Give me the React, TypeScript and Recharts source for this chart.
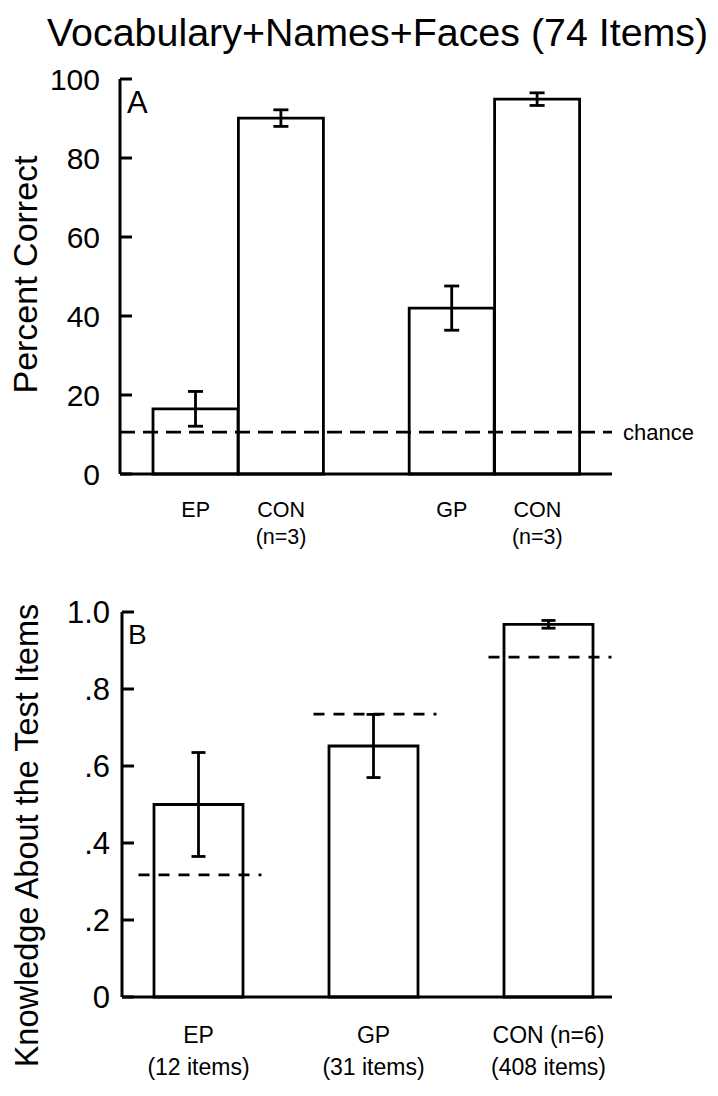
import React from 'react';
import { BarChart, ComposedChart, Bar, Line, XAxis, YAxis, ErrorBar, ReferenceLine, Label } from 'recharts';

const FONT = '"Liberation Sans", Arial, Helvetica, sans-serif';

// Panel A: percent correct
const groupsA = ['EP', 'CON', '', 'GP', 'CON'];
const subLabelsA = ['', '(n=3)', '', '', '(n=3)'];
const percentCorrect = [16.5, 90.1, null, 42, 94.9];
const percentErr = [4.4, 2.1, null, 5.6, 1.6];
const chanceA = 10.6;
const ticksA = [0, 20, 40, 60, 80, 100];

// Panel B: knowledge about the test items
const groupsB = ['EP', 'GP', 'CON (n=6)'];
const itemsB = ['(12 items)', '(31 items)', '(408 items)'];
const knowledge = [0.5, 0.652, 0.968];
const knowledgeErr = [0.135, 0.082, 0.01];
const baselineB = [0.317, 0.735, 0.883];
const ticksB = [0, 0.2, 0.4, 0.6, 0.8, 1.0];

const dataA = groupsA.map((g, i) => ({ group: g, sub: subLabelsA[i], value: percentCorrect[i], err: percentErr[i] }));
const dataB = groupsB.map((g, i) => ({ group: g, sub: itemsB[i], value: knowledge[i], err: knowledgeErr[i], base: baselineB[i] }));

const TwoLineTick = (props: any) => {
  const { x, y, payload, index, subs, fontSize, first, second } = props;
  const sub = subs[index];
  return (
    <g>
      <text x={x} y={y + first} textAnchor="middle" fontSize={fontSize} fontFamily={FONT} fill="#000">
        {payload.value}
      </text>
      {sub ? (
        <text x={x} y={y + first + second} textAnchor="middle" fontSize={fontSize} fontFamily={FONT} fill="#000">
          {sub}
        </text>
      ) : null}
    </g>
  );
};

const RotatedLabel = (props: any) => {
  const { viewBox, text, cx, shift, size } = props;
  const cy = viewBox.y + viewBox.height / 2 + shift;
  return (
    <text
      x={cx}
      y={cy}
      transform={`rotate(-90 ${cx} ${cy})`}
      textAnchor="middle"
      dominantBaseline="central"
      fontSize={size}
      fontFamily={FONT}
      fill="#000"
    >
      {text}
    </text>
  );
};

// short dashed level drawn across each bar in panel B
const DashMark = (props: any) => {
  const { cx, cy, index } = props;
  if (cx == null || cy == null) return <g key={index} />;
  return (
    <line
      key={index}
      x1={cx - 60}
      x2={cx + 63}
      y1={cy}
      y2={cy}
      stroke="#000"
      strokeWidth={2.8}
      strokeDasharray="11 9"
    />
  );
};

const formatB = (v: number) => (v === 0 ? '0' : v === 1 ? '1.0' : v.toFixed(1).replace(/^0/, ''));

export default function App() {
  return (
    <div style={{ position: 'absolute', left: 0, top: 0, width: 718, height: 1096, background: '#fff', fontFamily: FONT }}>
      <div style={{ position: 'absolute', left: 47, top: 13, fontSize: 39.4, lineHeight: '39px', whiteSpace: 'nowrap', color: '#000' }}>
        Vocabulary+Names+Faces (74 Items)
      </div>

      <div style={{ position: 'absolute', left: 0, top: 0 }}>
        <BarChart width={718} height={555} data={dataA} margin={{ top: 79, right: 106, bottom: 21, left: 0 }} barCategoryGap={0}>
          <XAxis
            dataKey="group"
            interval={0}
            height={60}
            padding={{ left: 33, right: 32 }}
            axisLine={{ stroke: '#000', strokeWidth: 3 }}
            tickLine={false}
            tick={<TwoLineTick subs={subLabelsA} fontSize={21.5} first={35} second={27} />}
          />
          <YAxis
            domain={[0, 100]}
            ticks={ticksA}
            width={120}
            axisLine={{ stroke: '#000', strokeWidth: 3 }}
            tickLine={{ stroke: '#000', strokeWidth: 3 }}
            tickSize={-12}
            tickMargin={32}
            tick={{ fill: '#000', fontSize: 30, fontFamily: FONT }}
          >
            <Label content={<RotatedLabel text="Percent Correct" cx={25} shift={-2} size={34} />} />
          </YAxis>
          <Bar dataKey="value" fill="#fff" stroke="#000" strokeWidth={2.8} isAnimationActive={false}>
            <ErrorBar dataKey="err" width={7.5} strokeWidth={2.8} stroke="#000" direction="y" isAnimationActive={false} />
          </Bar>
          <ReferenceLine
            y={chanceA}
            stroke="#000"
            strokeWidth={2.8}
            strokeDasharray="15 8"
            label={{ value: 'chance', position: 'right', offset: 11, fontSize: 22, fill: '#000', fontFamily: FONT }}
          />
        </BarChart>
      </div>

      <div style={{ position: 'absolute', left: 127, top: 87, fontSize: 31, lineHeight: '31px', color: '#000' }}>A</div>

      <div style={{ position: 'absolute', left: 0, top: 560 }}>
        <ComposedChart width={718} height={536} data={dataB} margin={{ top: 52, right: 106, bottom: 29, left: 0 }} barSize={89}>
          <XAxis
            dataKey="group"
            interval={0}
            height={70}
            padding={{ left: -11, right: -24 }}
            axisLine={{ stroke: '#000', strokeWidth: 3 }}
            tickLine={false}
            tick={<TwoLineTick subs={itemsB} fontSize={23} first={38} second={32} />}
          />
          <YAxis
            domain={[0, 1]}
            ticks={ticksB}
            tickFormatter={formatB}
            width={122}
            axisLine={{ stroke: '#000', strokeWidth: 3 }}
            tickLine={{ stroke: '#000', strokeWidth: 3 }}
            tickSize={-12}
            tickMargin={24}
            tick={{ fill: '#000', fontSize: 31, fontFamily: FONT }}
          >
            <Label content={<RotatedLabel text="Knowledge About the Test Items" cx={27} shift={31} size={32.5} />} />
          </YAxis>
          <Bar dataKey="value" fill="#fff" stroke="#000" strokeWidth={2.8} isAnimationActive={false}>
            <ErrorBar dataKey="err" width={7} strokeWidth={2.8} stroke="#000" direction="y" isAnimationActive={false} />
          </Bar>
          <Line dataKey="base" stroke="none" dot={DashMark} activeDot={false} legendType="none" isAnimationActive={false} />
        </ComposedChart>
      </div>

      <div style={{ position: 'absolute', left: 128, top: 621, fontSize: 28, lineHeight: '28px', color: '#000' }}>B</div>
    </div>
  );
}
